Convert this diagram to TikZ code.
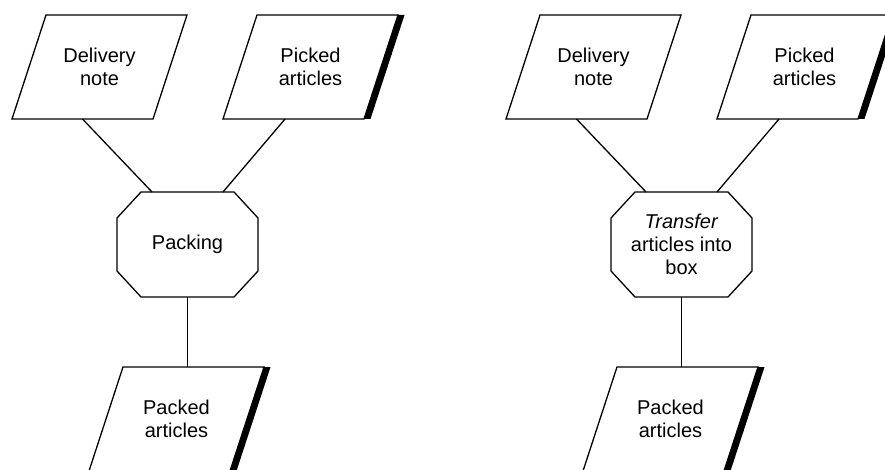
\documentclass[tikz,border=0pt]{standalone}
\usepackage{fontspec}
\setmainfont{Liberation Sans}
\usetikzlibrary{calc}

% parallelogram document symbol: top-left corner, text
\newcommand{\docbox}[4]{%
  \path (#2,#3) coordinate (#1-tl) ++(141,0) coordinate (#1-tr)
        ++(-34,104) coordinate (#1-br) ++(-141,0) coordinate (#1-bl);
  \draw[outline] (#1-tl) -- (#1-tr) -- (#1-br) -- (#1-bl) -- cycle;
  \node[lbl] (#1) at ($(#1-tl)!0.5!(#1-br)$) {#4};
}
% thick bar along the right edge of a document symbol
\newcommand{\docshadow}[1]{%
  \fill[black] (#1-tr) -- ++(6.5,0) -- ($(#1-br)+(6.5,0)$) -- (#1-br) -- cycle;
}
% octagonal process symbol around a centre point
\newcommand{\procbox}[4]{%
  \coordinate (#1-c) at (#2,#3);
  \draw[outline] ($(#1-c)+(-46.5,-52.5)$) -- ($(#1-c)+(46.5,-52.5)$)
    -- ($(#1-c)+(70.5,-26.5)$) -- ($(#1-c)+(70.5,26.5)$)
    -- ($(#1-c)+(46.5,52.5)$) -- ($(#1-c)+(-46.5,52.5)$)
    -- ($(#1-c)+(-70.5,26.5)$) -- ($(#1-c)+(-70.5,-26.5)$) -- cycle;
  \coordinate (#1-nw) at ($(#1-c)+(-35.5,-52.5)$);
  \coordinate (#1-ne) at ($(#1-c)+(35.5,-52.5)$);
  \coordinate (#1-s)  at ($(#1-c)+(0,52.5)$);
  \node[lbl] (#1) at (#1-c) {#4};
}

\begin{document}
\begin{tikzpicture}[x=1pt,y=-1pt,
  outline/.style={draw=black, line width=1.3pt, fill=white, line join=miter},
  link/.style={draw=black, line width=1.3pt},
  lbl/.style={align=center, inner sep=0pt,
              font=\fontsize{20}{23}\selectfont}]
  \useasboundingbox (0,0) rectangle (885,470);
  \clip (0,0) rectangle (885,470);

  % ---- left variant ----
  \docbox{dnA}{46}{15}{Delivery\\note}
  \docbox{paA}{257}{15}{Picked\\articles}
  \docshadow{paA}
  \procbox{prA}{187.5}{244.5}{Packing}
  \docbox{pkA}{123}{367}{Packed\\articles}
  \docshadow{pkA}

  \coordinate (dnA-out) at ($(dnA-bl)!0.5!(dnA-br)$);
  \coordinate (paA-out) at ($(paA-bl)!0.44!(paA-br)$);
  \draw[link] (dnA-out) -- (prA-nw);
  \draw[link] (paA-out) -- (prA-ne);
  \draw[link] (prA-s) -- (prA-s |- pkA-tl);

  % ---- right variant ----
  \docbox{dnB}{540}{15}{Delivery\\note}
  \docbox{paB}{751}{15}{Picked\\articles}
  \docshadow{paB}
  \procbox{prB}{681.5}{244.5}{\textit{Transfer}\\articles into\\box}
  \docbox{pkB}{617}{367}{Packed\\articles}
  \docshadow{pkB}

  \coordinate (dnB-out) at ($(dnB-bl)!0.5!(dnB-br)$);
  \coordinate (paB-out) at ($(paB-bl)!0.44!(paB-br)$);
  \draw[link] (dnB-out) -- (prB-nw);
  \draw[link] (paB-out) -- (prB-ne);
  \draw[link] (prB-s) -- (prB-s |- pkB-tl);
\end{tikzpicture}
\end{document}
